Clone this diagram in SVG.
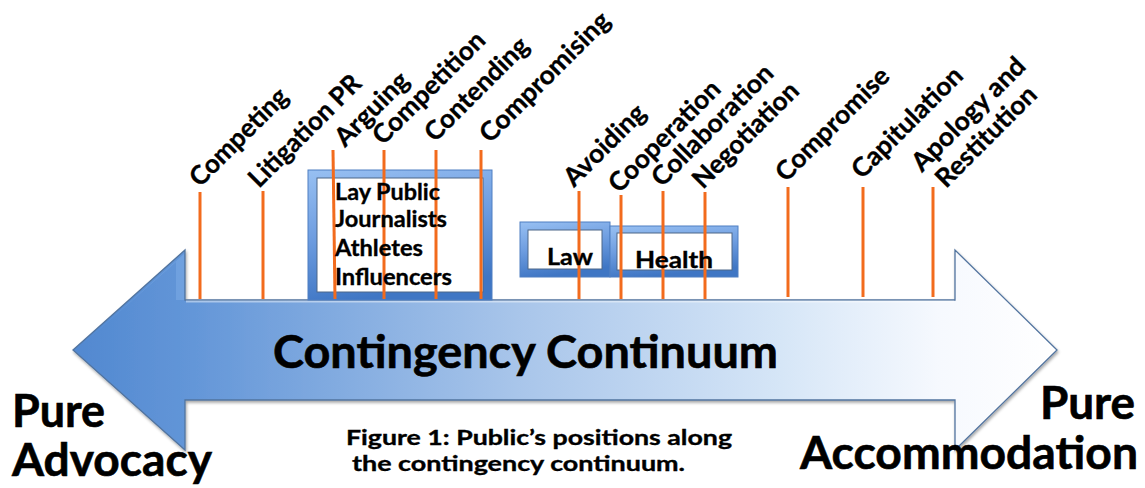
<svg xmlns="http://www.w3.org/2000/svg" width="1145" height="488" viewBox="0 0 1145 488">
<defs>
<linearGradient id="arrowGrad" gradientUnits="userSpaceOnUse" x1="73" y1="0" x2="1057" y2="0">
<stop offset="0" stop-color="#5188d0"/>
<stop offset="0.12" stop-color="#6396d8"/>
<stop offset="0.45" stop-color="#a8c5ea"/>
<stop offset="0.72" stop-color="#d6e6f7"/>
<stop offset="0.88" stop-color="#f6f9fe"/>
<stop offset="1" stop-color="#ffffff"/>
</linearGradient>
<linearGradient id="frameGrad" x1="0" y1="0" x2="0.25" y2="1">
<stop offset="0" stop-color="#98c0f2"/>
<stop offset="0.5" stop-color="#6e9de0"/>
<stop offset="1" stop-color="#3f76c4"/>
</linearGradient>
<filter id="shadow" x="-5%" y="-10%" width="110%" height="125%">
<feDropShadow dx="1" dy="2" stdDeviation="1.5" flood-color="#000" flood-opacity="0.35"/>
</filter>
</defs>
<style>
.lbl{font-family:Lato,"Open Sans","Liberation Sans",sans-serif;font-weight:700;fill:#000;stroke:#000;stroke-width:0.35;}
.rot{font-size:26px;}
.box{font-size:23px;}
.big{font-size:46px;stroke-width:0.6;}
.end{font-size:45px;stroke-width:0.6;}
.cap{font-size:20.5px;}
.tick{stroke:#f26b1d;stroke-width:3;fill:none;}
.frame{fill:url(#frameGrad);stroke:#4f7fc2;stroke-width:1;}
.inner{fill:#fff;stroke:#4d6788;stroke-width:1;}
</style>
<rect width="1145" height="488" fill="#fff"/>

<g id="continuum-arrow">
<polygon points="73,350 185,250 185,300 955,300 955,250 1057,350 955,450 955,400 185,400 185,450" fill="url(#arrowGrad)" stroke="#52749f" stroke-width="1.3" filter="url(#shadow)"/>
<line x1="186" y1="301.5" x2="954" y2="301.5" stroke="#fff" stroke-opacity="0.45" stroke-width="2"/>
<polygon points="76,350 184,254 184,300 176,300 176,262" fill="#8cb8ee" fill-opacity="0.35"/>
<text class="lbl big" x="273" y="368" textLength="505" lengthAdjust="spacingAndGlyphs">Contingency Continuum</text>
</g>

<g id="box-publics">
<rect class="frame" x="308" y="170" width="184" height="130"/>
<rect class="inner" x="317" y="178" width="166" height="114"/>
</g>
<g id="box-law">
<rect class="frame" x="520" y="222" width="90" height="55"/>
<rect class="inner" x="528" y="230" width="74" height="39"/>
</g>
<g id="box-health">
<rect class="frame" x="610" y="226" width="128" height="51"/>
<rect class="inner" x="617" y="233" width="115" height="37"/>
</g>

<g id="connectors">
<line class="tick" x1="200" y1="192" x2="200" y2="299"/>
<line class="tick" x1="263" y1="191" x2="263" y2="299"/>
<line class="tick" x1="333" y1="150" x2="335" y2="299"/>
<line class="tick" x1="384" y1="150" x2="384" y2="299"/>
<line class="tick" x1="436" y1="150" x2="436" y2="299"/>
<line class="tick" x1="481" y1="150" x2="481" y2="299"/>
<line class="tick" x1="579" y1="191" x2="579" y2="299"/>
<line class="tick" x1="621" y1="195" x2="621" y2="299"/>
<line class="tick" x1="663" y1="191" x2="663" y2="299"/>
<line class="tick" x1="705" y1="192" x2="705" y2="299"/>
<line class="tick" x1="788" y1="187" x2="788" y2="297"/>
<line class="tick" x1="863" y1="187" x2="863" y2="297"/>
<line class="tick" x1="933" y1="187" x2="933" y2="297"/>
</g>

<g id="publics-text">
<text class="lbl box" x="335" y="200" textLength="105" lengthAdjust="spacingAndGlyphs">Lay Public</text>
<text class="lbl box" x="335" y="227" textLength="112" lengthAdjust="spacingAndGlyphs">Journalists</text>
<text class="lbl box" x="335" y="256" textLength="88" lengthAdjust="spacingAndGlyphs">Athletes</text>
<text class="lbl box" x="335" y="285" textLength="117" lengthAdjust="spacingAndGlyphs">Influencers</text>
</g>
<g id="law-text"><text class="lbl box" x="547" y="265" textLength="46" lengthAdjust="spacingAndGlyphs">Law</text></g>
<g id="health-text"><text class="lbl box" x="635" y="268" textLength="78" lengthAdjust="spacingAndGlyphs">Health</text></g>

<g id="label-competing"><text class="lbl rot" transform="translate(200,188) rotate(-45)" textLength="127" lengthAdjust="spacingAndGlyphs">Competing</text></g>
<g id="label-litigation"><text class="lbl rot" transform="translate(259,189) rotate(-45)" textLength="147" lengthAdjust="spacingAndGlyphs">Litigation PR</text></g>
<g id="label-arguing"><text class="lbl rot" transform="translate(345,148) rotate(-45)" textLength="93" lengthAdjust="spacingAndGlyphs">Arguing</text></g>
<g id="label-competition"><text class="lbl rot" transform="translate(383,146) rotate(-45)" textLength="147" lengthAdjust="spacingAndGlyphs">Competition</text></g>
<g id="label-contending"><text class="lbl rot" transform="translate(435,143) rotate(-45)" textLength="135" lengthAdjust="spacingAndGlyphs">Contending</text></g>
<g id="label-compromising"><text class="lbl rot" transform="translate(490,144) rotate(-45)" textLength="172" lengthAdjust="spacingAndGlyphs">Compromising</text></g>
<g id="label-avoiding"><text class="lbl rot" transform="translate(574,188) rotate(-45)" textLength="104" lengthAdjust="spacingAndGlyphs">Avoiding</text></g>
<g id="label-cooperation"><text class="lbl rot" transform="translate(619,194) rotate(-45)" textLength="146" lengthAdjust="spacingAndGlyphs">Cooperation</text></g>
<g id="label-collaboration"><text class="lbl rot" transform="translate(662,188) rotate(-45)" textLength="160" lengthAdjust="spacingAndGlyphs">Collaboration</text></g>
<g id="label-negotiation"><text class="lbl rot" transform="translate(703,190) rotate(-45)" textLength="138" lengthAdjust="spacingAndGlyphs">Negotiation</text></g>
<g id="label-compromise"><text class="lbl rot" transform="translate(786,183) rotate(-45)" textLength="149" lengthAdjust="spacingAndGlyphs">Compromise</text></g>
<g id="label-capitulation"><text class="lbl rot" transform="translate(862,180) rotate(-45)" textLength="145" lengthAdjust="spacingAndGlyphs">Capitulation</text></g>
<g id="label-apology"><text class="lbl rot" transform="translate(922,173) rotate(-45)" textLength="149" lengthAdjust="spacingAndGlyphs">Apology and</text>
<text class="lbl rot" transform="translate(946,189) rotate(-45)" textLength="131" lengthAdjust="spacingAndGlyphs">Restitution</text></g>

<g id="pure-advocacy">
<text class="lbl end" x="12" y="427" textLength="93" lengthAdjust="spacingAndGlyphs">Pure</text>
<text class="lbl end" x="12" y="476" textLength="200" lengthAdjust="spacingAndGlyphs">Advocacy</text>
</g>
<g id="pure-accommodation">
<text class="lbl end" x="1040" y="419" textLength="95" lengthAdjust="spacingAndGlyphs">Pure</text>
<text class="lbl end" x="800" y="469" textLength="338" lengthAdjust="spacingAndGlyphs">Accommodation</text>
</g>

<g id="caption">
<text class="lbl cap" x="346" y="445" textLength="386" lengthAdjust="spacingAndGlyphs">Figure 1: Public’s positions along</text>
<text class="lbl cap" x="352" y="471" textLength="333" lengthAdjust="spacingAndGlyphs">the contingency continuum.</text>
</g>
</svg>
